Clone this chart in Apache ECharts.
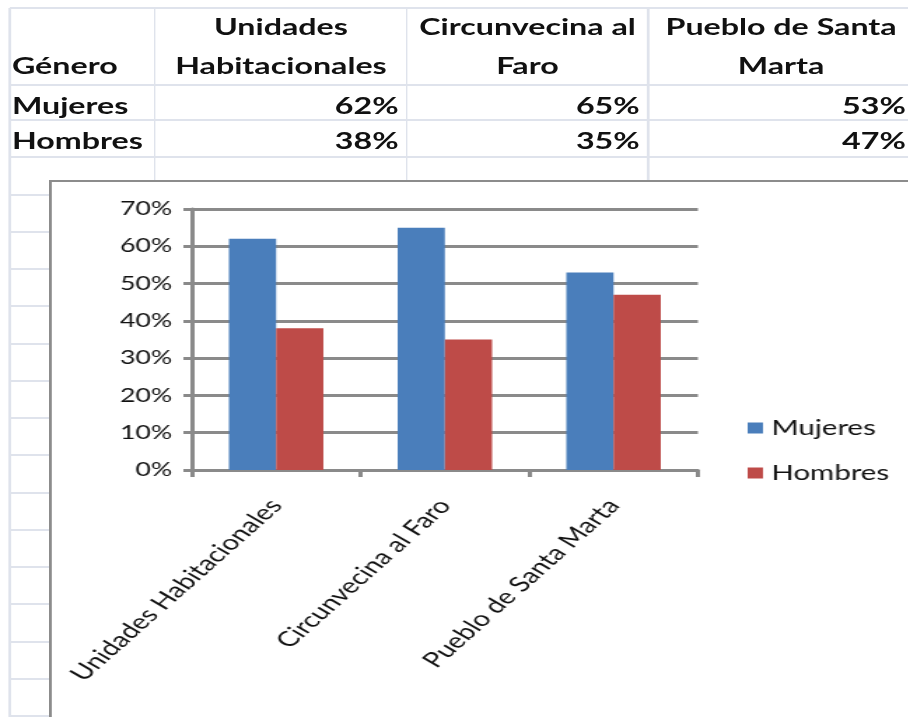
<!DOCTYPE html>
<html>
<head>
<meta charset="utf-8">
<script src="https://cdn.jsdelivr.net/npm/echarts@6/dist/echarts.min.js"></script>
<style>
  html, body { margin: 0; padding: 0; background: #fff; overflow: hidden; width: 908px; height: 717px; }
  /* the sheet is laid out in narrow units and widened horizontally */
  #sheet { position: absolute; left: 0; top: 0; width: 649px; height: 717px;
           transform: scaleX(1.4); transform-origin: 0 0; font-family: Lato, "Noto Sans", sans-serif; }
  .hl { position: absolute; height: 2px; background: #dfe3ec; }
  .vl { position: absolute; width: 1.4px; background: #dfe3ec; }
  .cell { position: absolute; font-weight: bold; font-size: 23px; color: #111; white-space: nowrap; line-height: 23px; }
  #box { position: absolute; left: 35px; top: 180px; width: 640px; height: 600px;
         border: 2px solid #8c8c8c; background: #fff; }
  #chart { position: absolute; left: 0; top: 0; width: 620px; height: 560px; }
</style>
</head>
<body>
<div id="sheet"></div>
<script>
// Table contents and chart data
const categories = ['Unidades Habitacionales', 'Circunvecina al Faro', 'Pueblo de Santa Marta'];
const headerLines = [['Unidades', 'Habitacionales'], ['Circunvecina al', 'Faro'], ['Pueblo de Santa', 'Marta']];
const genderLabel = 'Género';
const seriesNames = ['Mujeres', 'Hombres'];
const mujeres = [62, 65, 53];
const hombres = [38, 35, 47];
const yTicks = [0, 10, 20, 30, 40, 50, 60, 70];

const sheet = document.getElementById('sheet');

function add(cls, css, text) {
  const d = document.createElement('div');
  d.className = cls;
  Object.assign(d.style, css);
  if (text !== undefined) d.textContent = text;
  sheet.appendChild(d);
  return d;
}

// Spreadsheet grid
const colEdges = [7, 110.7, 290.7, 462.9, 653];
const rowEdges = [8, 85];
for (let y = 120; y < 720; y += 37.25) rowEdges.push(y);
rowEdges.forEach(y => add('hl', { left: '7px', width: '642px', top: (y - 1) + 'px' }));
colEdges.slice(0, 4).forEach(x => add('vl', { left: (x - 0.7) + 'px', top: '8px', height: '709px' }));

// Header row: two lines per column, centred
add('cell', { left: '8.5px', top: '54px' }, genderLabel);
headerLines.forEach((lines, i) => {
  const l = colEdges[i + 1], w = colEdges[i + 2] - colEdges[i + 1];
  lines.forEach((t, k) => add('cell', { left: l + 'px', width: w + 'px', textAlign: 'center', top: (15 + k * 39) + 'px' }, t));
});

// Value rows, right aligned
const rows = [[seriesNames[0], mujeres, 94], [seriesNames[1], hombres, 129]];
rows.forEach(([name, vals, top]) => {
  add('cell', { left: '8.5px', top: top + 'px' }, name);
  vals.forEach((v, i) => {
    const r = colEdges[i + 2];
    add('cell', { left: (r - 150) + 'px', width: '144px', textAlign: 'right', top: top + 'px' }, v + '%');
  });
});

// Chart frame
const box = add('', {});
box.id = 'box';
const holder = document.createElement('div');
holder.id = 'chart';
box.appendChild(holder);

const gray = '#8a8a8a';
const chart = echarts.init(holder, null, { renderer: 'canvas' });
chart.setOption({
  animation: false,
  textStyle: { fontFamily: 'Lato, "Noto Sans", sans-serif' },
  legend: {
    orient: 'vertical',
    left: 492,
    top: 230,
    itemWidth: 11,
    itemHeight: 11,
    itemGap: 23,
    icon: 'rect',
    textStyle: { fontSize: 21, lineHeight: 22, color: '#111', padding: [0, 0, 0, 1] },
    data: seriesNames
  },
  grid: { left: 100, top: 27, width: 361.5, height: 261, containLabel: false },
  xAxis: {
    type: 'category',
    data: categories,
    axisLine: { lineStyle: { color: gray, width: 3 } },
    axisTick: { show: true, alignWithLabel: false, length: 7, lineStyle: { color: gray, width: 3 } },
    axisLabel: { rotate: 51, fontSize: 21, color: '#111', margin: 32, interval: 0 },
    splitLine: { show: false }
  },
  yAxis: {
    type: 'value',
    min: yTicks[0],
    max: yTicks[yTicks.length - 1],
    interval: 10,
    axisLine: { show: true, lineStyle: { color: gray, width: 3 } },
    axisTick: { show: true, length: 6, lineStyle: { color: gray, width: 3 } },
    axisLabel: { formatter: '{value}%', fontSize: 19, color: '#111', margin: 14 },
    splitLine: { lineStyle: { color: gray, width: 3 } }
  },
  series: [
    { name: seriesNames[0], type: 'bar', data: mujeres, barGap: '0%', barCategoryGap: '44%',
      itemStyle: { color: '#4a7ebb' } },
    { name: seriesNames[1], type: 'bar', data: hombres, barGap: '0%', barCategoryGap: '44%',
      itemStyle: { color: '#be4b48' } }
  ]
});
</script>
</body>
</html>
